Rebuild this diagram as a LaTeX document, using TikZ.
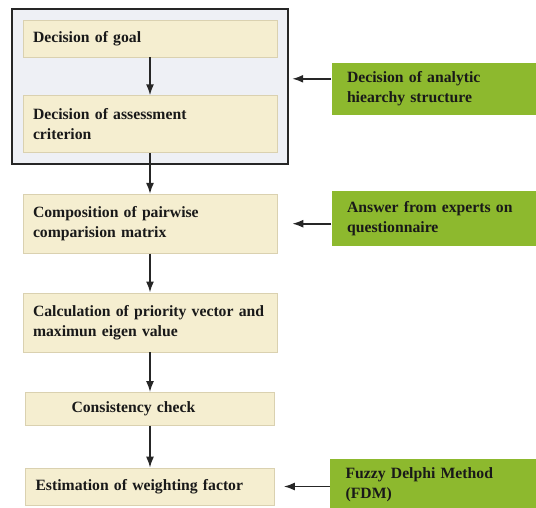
\documentclass[tikz,border=0pt]{standalone}
\usepackage{fontspec}
\setmainfont{Liberation Serif}
\usetikzlibrary{positioning,fit,backgrounds,arrows.meta}
\definecolor{boxbeige}{RGB}{245,238,208}
\definecolor{beigeline}{RGB}{218,209,176}
\definecolor{framegray}{RGB}{238,240,245}
\definecolor{leafgreen}{RGB}{141,185,46}

\begin{document}
\begin{tikzpicture}[auto, semithick,
        stepbox/.style={rectangle, fill=boxbeige, draw=beigeline, line width=0.6pt, text width=234pt,
        inner xsep=10pt, align=left, font=\bfseries\fontsize{15.7pt}{20pt}\selectfont, text=black!90},
        inputbox/.style={rectangle, fill=leafgreen, text width=175pt, inner xsep=15.5pt, inner ysep=4pt,
        align=left, font=\bfseries\fontsize{15.7pt}{20pt}\selectfont, text=black!90},
        arr/.style={-{Latex[length=11pt,width=8pt]}, line width=1.7pt, black!85}]
        \useasboundingbox (0,0) rectangle (536pt,-507pt);
        \node[stepbox, minimum height=37pt] (goal) at (150pt,-38.5pt) {Decision of goal};
        \node[stepbox, minimum height=57pt] (crit) [below=38pt of goal] {Decision of assessment\\criterion};
        \node[stepbox, minimum height=59pt] (compo) [below=41pt of crit] {Composition of pairwise\\comparision matrix};
        \node[stepbox, minimum height=59pt] (calc) [below=39pt of compo] {Calculation of priority vector and\\maximun eigen value};
        \node[stepbox, minimum height=33pt, text width=229pt] (cons) [below=40pt of calc] {\hspace*{36pt}Consistency check};
        \node[stepbox, minimum height=37pt, text width=229pt] (weight) [below=42pt of cons] {Estimation of weighting factor};

        \begin{scope}[on background layer]
        \node[draw=black!85, fill=framegray, line width=1.8pt, inner sep=11pt, fit=(goal)(crit)] (ahpframe) {};
        \end{scope}

        \node[inputbox, minimum height=52pt] (hier) [right=42pt of ahpframe, yshift=-2.5pt] {Decision of analytic\\hiearchy structure};
        \node[inputbox, minimum height=55pt] (experts) [right=54pt of compo, yshift=5pt] {Answer from experts on\\questionnaire};
        \node[inputbox, minimum height=52pt] (fdm) [right=55pt of weight, yshift=2pt] {Fuzzy Delphi Method\\(FDM)};

        \path (goal) edge [arr] (crit);
        \path (crit) edge [arr] (compo);
        \path (compo) edge [arr] (calc);
        \path (calc) edge [arr] (cons);
        \path (cons) edge [arr] (weight);

        \draw[arr, shorten >=3pt] ([yshift=7.5pt]ahpframe.east -| hier.west) -- ([yshift=7.5pt]ahpframe.east);
        \draw[arr, shorten >=15pt] (compo -| experts.west) -- (compo);
        \draw[arr, shorten >=9pt] (weight -| fdm.west) -- (weight);
\end{tikzpicture}
\end{document}
